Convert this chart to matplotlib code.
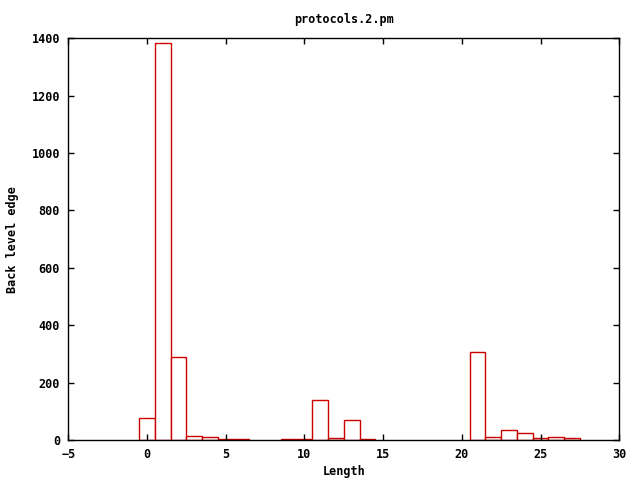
import matplotlib
matplotlib.use("Agg")
from matplotlib import pyplot as plt

lengths = [0, 1, 2, 3, 4, 5, 6, 9, 10, 11, 12, 13, 14, 21, 22, 23, 24, 25, 26, 27]
counts = [76, 1382, 289, 13, 9, 3, 3, 3, 3, 139, 6, 69, 3, 306, 10, 35, 23, 6, 9, 6]

plt.rcParams['font.family'] = ['DejaVu Sans Mono']
plt.rcParams['font.weight'] = 'bold'
plt.rcParams['font.size'] = 8.5

fig = plt.figure(figsize=(6.4, 4.8), dpi=100)
ax = fig.add_axes([68.3 / 640, 1 - 440 / 480, (619.3 - 68.3) / 640, (440 - 38.3) / 480])

ax.bar(lengths, counts, width=1.0, color='white', edgecolor='#cc0000', linewidth=1)

ax.set_xlim(-5, 30)
ax.set_ylim(0, 1400)
ax.set_xticks(range(-5, 31, 5))
ax.set_yticks(range(0, 1401, 200))
ax.tick_params(direction='in', top=True, right=True, length=4, width=1, pad=6)
for s in ax.spines.values():
    s.set_linewidth(1)

ax.set_title('protocols.2.pm', fontsize=8.5, fontweight='bold', pad=11)
ax.set_xlabel('Length', fontweight='bold', labelpad=3)
ax.set_ylabel('Back level edge', fontweight='bold', labelpad=9)

fig.savefig('out.png', dpi=100)
